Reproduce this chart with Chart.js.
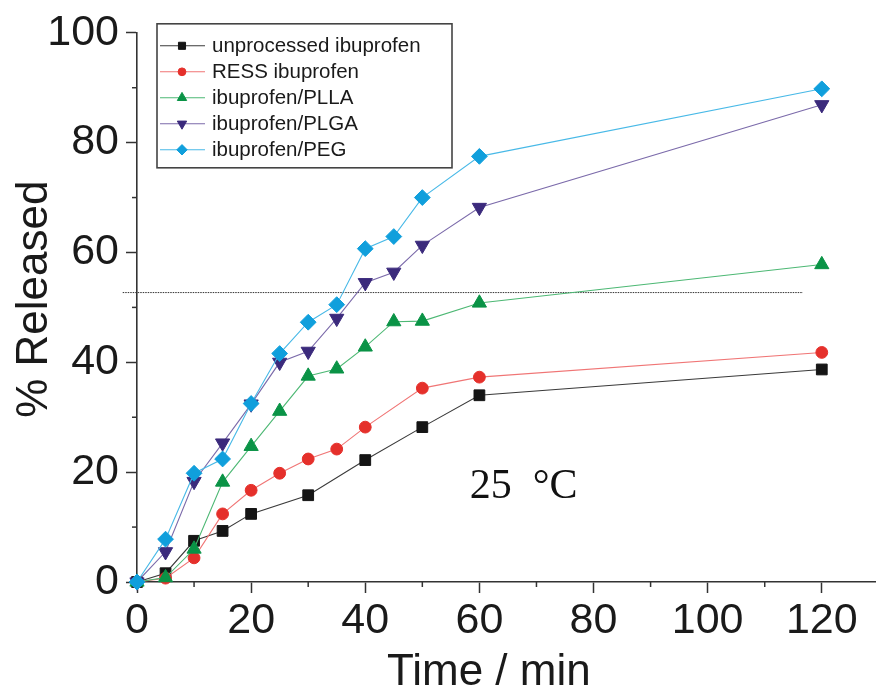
<!DOCTYPE html>
<html>
<head>
<meta charset="utf-8">
<script src="https://cdn.jsdelivr.net/npm/chart.js@4.4.1/dist/chart.umd.min.js"></script>
<style>
  html, body { margin: 0; padding: 0; background: #ffffff; overflow: hidden; }
  #wrap { width: 876px; height: 688px; position: relative; }
</style>
</head>
<body>
<div id="wrap"><canvas id="c" width="876" height="688"></canvas></div>
<script>
// ---- data ----
const times = [0, 5, 10, 15, 20, 25, 30, 35, 40, 45, 50, 60, 120];
const seriesNames = ["unprocessed ibuprofen", "RESS ibuprofen", "ibuprofen/PLLA", "ibuprofen/PLGA", "ibuprofen/PEG"];
const unprocessed = [0, 1.6, 7.5, 9.3, 12.4, null, 15.8, null, 22.2, null, 28.2, 34.0, 38.7];
const ress        = [0, 0.7, 4.4, 12.4, 16.7, 19.8, 22.4, 24.2, 28.2, null, 35.3, 37.3, 41.8];
const plla        = [0, 0.8, 6.0, 18.2, 24.7, 31.1, 37.5, 38.8, 42.8, 47.4, 47.5, 50.8, 57.8];
const plga        = [0, 5.5, 18.3, 25.3, 32.4, 40.0, 42.0, 48.0, 54.5, 56.4, 61.3, 68.2, 86.9];
const peg         = [0, 7.8, 19.8, 22.4, 32.5, 41.6, 47.3, 50.5, 60.7, 62.9, 70.0, 77.5, 89.8];
const xTickLabels = [0, 20, 40, 60, 80, 100, 120];
const yTickLabels = [0, 20, 40, 60, 80, 100];
const refLineX = [-2.5, 116.7];
const refLineY = 52.7;
const tempLabel = "25  \u00B0C";
const tempLabelPos = [58.3, 15.3];
const xTitle = "Time / min";
const yTitle = "% Released";

// ---- styles ----
const FONT = '"Liberation Sans", Arial, Helvetica, sans-serif';
const styles = [
  { line: '#3a3a3a', fill: '#151515', style: 'rect',     rot: 0,   r: 7.6 },
  { line: '#f07575', fill: '#e5302b', style: 'circle',   rot: 0,   r: 5.9 },
  { line: '#4db874', fill: '#0a9346', style: 'triangle', rot: 0,   r: 8.2 },
  { line: '#7b6aaa', fill: '#3b2a7c', style: 'triangle', rot: 180, r: 8.2 },
  { line: '#48b9e7', fill: '#109fdc', style: 'rectRot',  rot: 0,   r: 7.9 }
];
const allSeries = [unprocessed, ress, plla, plga, peg];

const datasets = allSeries.map((vals, i) => ({
  label: seriesNames[i],
  data: times.map((t, k) => ({ x: t, y: vals[k] })).filter(p => p.y !== null),
  borderColor: styles[i].line,
  backgroundColor: styles[i].fill,
  pointBackgroundColor: styles[i].fill,
  pointBorderColor: styles[i].fill,
  pointBorderWidth: 1,
  pointStyle: styles[i].style,
  pointRotation: styles[i].rot,
  pointRadius: styles[i].r,
  pointHoverRadius: styles[i].r,
  borderWidth: 1.1,
  tension: 0,
  order: 5 - i,
  clip: false
}));
datasets.push({
  label: 'ref',
  data: refLineX.map(x => ({ x: x, y: refLineY })),
  borderColor: '#333333',
  borderWidth: 1,
  borderDash: [1.5, 1],
  pointRadius: 0,
  pointHoverRadius: 0,
  order: 10,
  clip: false
});

const decor = {
  id: 'decor',
  afterDraw(chart) {
    const ctx = chart.ctx;
    const xs = chart.scales.x, ys = chart.scales.y;
    const ca = chart.chartArea;
    ctx.save();
    // minor ticks
    ctx.strokeStyle = '#333333';
    ctx.lineWidth = 1.5;
    for (let v = 10; v < 130; v += 20) {
      const px = xs.getPixelForValue(v);
      ctx.beginPath(); ctx.moveTo(px, ca.bottom); ctx.lineTo(px, ca.bottom + 5); ctx.stroke();
    }
    for (let v = 10; v < 100; v += 20) {
      const py = ys.getPixelForValue(v);
      ctx.beginPath(); ctx.moveTo(ca.left, py); ctx.lineTo(ca.left - 5, py); ctx.stroke();
    }
    // axis titles
    ctx.fillStyle = '#1a1a1a';
    ctx.font = '44px ' + FONT;
    ctx.textAlign = 'left';
    ctx.textBaseline = 'alphabetic';
    ctx.fillText(xTitle, ca.left + 250, ca.bottom + 103);
    ctx.save();
    ctx.translate(ca.left - 90, ca.top + 385);
    ctx.rotate(-Math.PI / 2);
    ctx.fillText(yTitle, 0, 0);
    ctx.restore();
    // temperature label
    ctx.fillStyle = '#111111';
    ctx.font = '42px "Liberation Serif", "Times New Roman", serif';
    ctx.fillText(tempLabel, xs.getPixelForValue(tempLabelPos[0]), ys.getPixelForValue(tempLabelPos[1]));
    // legend
    const bx = ca.left + 20, by = ca.top - 9, bw = 295, bh = 144;
    ctx.fillStyle = '#ffffff';
    ctx.fillRect(bx, by, bw, bh);
    ctx.strokeStyle = '#444444';
    ctx.lineWidth = 1.6;
    ctx.strokeRect(bx, by, bw, bh);
    ctx.font = '20.5px ' + FONT;
    ctx.textBaseline = 'middle';
    for (let i = 0; i < seriesNames.length; i++) {
      const y = by + 22 + i * 26;
      ctx.strokeStyle = styles[i].line;
      ctx.lineWidth = 1.1;
      ctx.beginPath(); ctx.moveTo(bx + 3, y); ctx.lineTo(bx + 48, y); ctx.stroke();
      ctx.fillStyle = styles[i].fill;
      ctx.strokeStyle = styles[i].fill;
      ctx.lineWidth = 1;
      Chart.helpers.drawPoint(ctx, { pointStyle: styles[i].style, rotation: styles[i].rot, radius: styles[i].r * 0.66, borderWidth: 1 }, bx + 25, y);
      ctx.fillStyle = '#1a1a1a';
      ctx.fillText(seriesNames[i], bx + 55, y + 1);
    }
    ctx.restore();
  }
};

new Chart(document.getElementById('c'), {
  type: 'line',
  data: { datasets: datasets },
  options: {
    responsive: false,
    animation: false,
    events: [],
    layout: { autoPadding: false, padding: { top: 32, left: 0, right: 0, bottom: 0 } },
    plugins: { legend: { display: false }, tooltip: { enabled: false } },
    scales: {
      x: {
        type: 'linear', min: 0, max: 129.5,
        afterFit(s) { s.height = 106; s.paddingRight = 0; s.paddingLeft = 0; },
        border: { display: true, color: '#333333', width: 1.6 },
        grid: { drawOnChartArea: false, drawTicks: true, tickLength: 11, tickWidth: 1.5,
                tickColor: c => (xTickLabels.includes(c.tick && c.tick.value) ? '#333333' : 'rgba(0,0,0,0)') },
        ticks: { stepSize: 10, includeBounds: false, autoSkip: false, maxRotation: 0, padding: 2,
                 color: '#1a1a1a', font: { family: FONT, size: 43 },
                 callback: v => (xTickLabels.includes(v) ? String(v) : '') },
        title: { display: false }
      },
      y: {
        type: 'linear', min: 0, max: 100,
        afterFit(s) { s.width = 137; },
        border: { display: true, color: '#333333', width: 1.6 },
        grid: { drawOnChartArea: false, drawTicks: true, tickLength: 11, tickWidth: 1.5,
                tickColor: c => (yTickLabels.includes(c.tick && c.tick.value) ? '#333333' : 'rgba(0,0,0,0)') },
        ticks: { stepSize: 10, autoSkip: false, padding: 7,
                 color: '#1a1a1a', font: { family: FONT, size: 43 },
                 callback: v => (yTickLabels.includes(v) ? String(v) : '') },
        title: { display: false }
      }
    }
  },
  plugins: [decor]
});
</script>
</body>
</html>
